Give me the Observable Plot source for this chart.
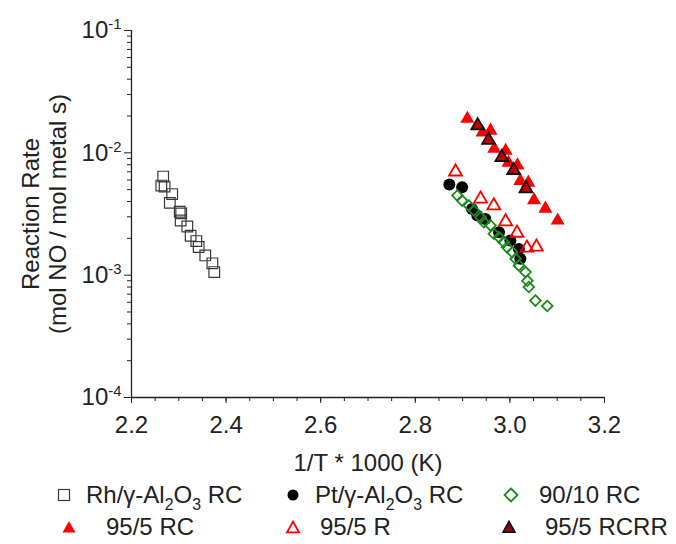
<!DOCTYPE html>
<html><head><meta charset="utf-8">
<script src="https://cdn.jsdelivr.net/npm/d3@7"></script>
<script src="https://cdn.jsdelivr.net/npm/@observablehq/plot@0.6"></script>
<style>
body{margin:0;background:#fff;font-family:"Liberation Sans",Arial,sans-serif;color:#222;}
#wrap{position:relative;width:676px;height:544px;overflow:hidden;}
#legend{position:absolute;left:0;top:476px;width:676px;height:68px;font-size:24px;}
.mk{position:absolute;display:flex;align-items:center;height:28px;}
.mk svg{overflow:visible;}
.lb{position:absolute;display:block;white-space:pre;height:28px;line-height:28px;}
sub{font-size:0.66em;vertical-align:-0.42em;line-height:0;}
</style></head><body>
<div id="wrap"><div id="chart"></div><div id="legend"></div></div>
<script>
// ---- data ----
const rhX = [2.267,2.263,2.270,2.286,2.281,2.302,2.305,2.304,2.318,2.325,2.337,2.342,2.356,2.371,2.375];
const rhY = [0.0064,0.0054,0.0053,0.0046,0.0039,0.0033,0.0032,0.0028,0.0025,0.0021,0.0019,0.0017,0.00145,0.00125,0.00106];
const ptX = [2.872,2.899,2.920,2.931,2.948,2.977,3.001,3.019,3.022];
const ptY = [0.0055,0.00524,0.00348,0.00307,0.00288,0.00224,0.00192,0.00164,0.00136];
const g90X = [2.889,2.899,2.913,2.924,2.938,2.945,2.959,2.966,2.977,2.987,2.994,3.005,3.012,3.019,3.033,3.037,3.040,3.054,3.079];
const g90Y = [0.00448,0.00407,0.00371,0.00338,0.00297,0.00271,0.00255,0.00218,0.00204,0.00186,0.00169,0.00154,0.00136,0.00120,0.00106,0.00090,0.00080,0.00062,0.00056];
const rcX = [2.910,2.942,2.959,2.967,2.991,2.997,3.016,3.022,3.039,3.051,3.075,3.101];
const rcY = [0.0190,0.0147,0.0152,0.0108,0.0104,0.0083,0.0079,0.0059,0.0057,0.0041,0.0035,0.0028];
const rX = [2.885,2.938,2.966,2.991,3.015,3.036,3.056];
const rY = [0.0070,0.0042,0.0037,0.00274,0.00221,0.00167,0.00170];
const rcrrX = [2.932,2.955,2.983,3.008,3.034];
const rcrrY = [0.0167,0.0127,0.0092,0.0072,0.0051];
const xTicks = [2.2,2.4,2.6,2.8,3.0,3.2];
const yTicks = [1e-4,1e-3,1e-2,1e-1];
const seriesNames = ["Rh/γ-Al2O3 RC","Pt/γ-Al2O3 RC","90/10 RC","95/5 RC","95/5 R","95/5 RCRR"];

const zip = (xs, ys) => xs.map((x, i) => ({x, y: ys[i]}));
const xMinor = d3.range(0, 21).map(i => +(2.2 + i * 0.05).toFixed(2));
const yMinor = [];
for (const d of [1e-4, 1e-3, 1e-2]) for (let k = 2; k <= 9; k++) yMinor.push(k * d);

const GREEN = "#1b8a1b", RED = "#ff0000";

const chart = Plot.plot({
  width: 676, height: 476,
  marginLeft: 131, marginRight: 72, marginTop: 30, marginBottom: 79,
  style: {fontFamily: "Liberation Sans, Arial, sans-serif", fontSize: "24px", color: "#222", background: "#fff", overflow: "visible"},
  x: {domain: [2.2, 3.2]},
  y: {type: "log", domain: [1e-4, 1e-1]},
  marks: [
    Plot.axisY({ticks: yMinor, tickSize: 4, tickFormat: () => "", label: null}),
    Plot.axisY({ticks: yTicks, tickSize: 7, tickPadding: 3, tickFormat: d => "10^" + Math.round(Math.log10(d)), label: null, fontSize: 24}),
    Plot.axisX({ticks: xMinor, tickSize: 4, tickFormat: () => "", label: null}),
    Plot.axisX({ticks: xTicks, tickSize: 6, tickPadding: 12, tickFormat: d3.format(".1f"), label: null, fontSize: 24}),
    Plot.ruleX([2.2], {stroke: "#222", strokeWidth: 1.3}),
    Plot.ruleY([1e-4], {stroke: "#222", strokeWidth: 1.3}),
    Plot.dot(zip(rhX, rhY), {x: "x", y: "y", symbol: "square", r: 6, fill: "none", stroke: "#3a3a3a", strokeWidth: 1.2}),
    Plot.dot(zip(ptX, ptY), {x: "x", y: "y", symbol: "circle", r: 6, fill: "#000", stroke: "none"}),
    Plot.dot(zip(g90X, g90Y), {x: "x", y: "y", symbol: "diamond2", r: 4.8, fill: "none", stroke: GREEN, strokeWidth: 1.8}),
    Plot.dot(zip(rcX, rcY), {x: "x", y: "y", symbol: "triangle", r: 5.2, fill: RED, stroke: "none"}),
    Plot.dot(zip(rcrrX, rcrrY), {x: "x", y: "y", symbol: "triangle", r: 4.8, fill: "#c00000", stroke: "#111", strokeWidth: 1.8}),
    Plot.dot(zip(rX, rY), {x: "x", y: "y", symbol: "triangle", r: 4.8, fill: "none", stroke: RED, strokeWidth: 1.8}),
    Plot.text(["Reaction Rate\n(mol NO / mol metal s)"], {frameAnchor: "left", textAnchor: "middle", lineAnchor: "middle", rotate: -90, dx: -88, lineHeight: 1.12, fontSize: 24, fill: "#222"}),
    Plot.text(["1/T * 1000 (K)"], {frameAnchor: "bottom", textAnchor: "middle", lineAnchor: "middle", dy: 66, fontSize: 24, fill: "#222"})
  ]
});

// superscript exponents on y tick labels
d3.select(chart).selectAll("text").each(function() {
  const t = this.textContent;
  if (/^10\^-?\d+$/.test(t) && this.children.length === 0) {
    const exp = t.split("^")[1];
    const sel = d3.select(this);
    sel.text("10");
    sel.append("tspan").attr("dy", "-0.6em").attr("font-size", "0.62em").text(exp);
  }
});
document.getElementById("chart").appendChild(chart);

// ---- legend ----
const markers = [
  '<svg width="14" height="14"><rect x="1.5" y="1.5" width="11" height="11" fill="none" stroke="#3a3a3a" stroke-width="1.2"/></svg>',
  '<svg width="14" height="14"><circle cx="7" cy="7" r="5.5" fill="#000"/></svg>',
  '<svg width="14" height="14"><path d="M7,0.5L13.5,7L7,13.5L0.5,7Z" fill="none" stroke="' + GREEN + '" stroke-width="1.8"/></svg>',
  '<svg width="14" height="14"><path d="M7,1L13.5,12.5L0.5,12.5Z" fill="' + RED + '"/></svg>',
  '<svg width="14" height="14"><path d="M7,1.5L13,12.3L1,12.3Z" fill="none" stroke="' + RED + '" stroke-width="1.8"/></svg>',
  '<svg width="14" height="14"><path d="M7,1.5L13,12.3L1,12.3Z" fill="#8b0a0a" stroke="#111" stroke-width="1.6"/></svg>'
];
const labelsHtml = seriesNames.map(s => s.replace("Al2O3", "Al<sub>2</sub>O<sub>3</sub>"));
const pos = [
  {mx: 57, tx: 86, y: 5}, {mx: 286, tx: 315, y: 5}, {mx: 504, tx: 539, y: 5},
  {mx: 62, tx: 106, y: 37}, {mx: 286, tx: 320, y: 37}, {mx: 502, tx: 545, y: 37}
];
const legend = document.getElementById("legend");
pos.forEach((p, i) => {
  const m = document.createElement("div");
  m.className = "mk"; m.style.left = p.mx + "px"; m.style.top = p.y + "px";
  m.innerHTML = markers[i];
  legend.appendChild(m);
  const t = document.createElement("div");
  t.className = "lb"; t.style.left = p.tx + "px"; t.style.top = p.y + "px";
  t.innerHTML = labelsHtml[i];
  legend.appendChild(t);
});
</script>
</body></html>
